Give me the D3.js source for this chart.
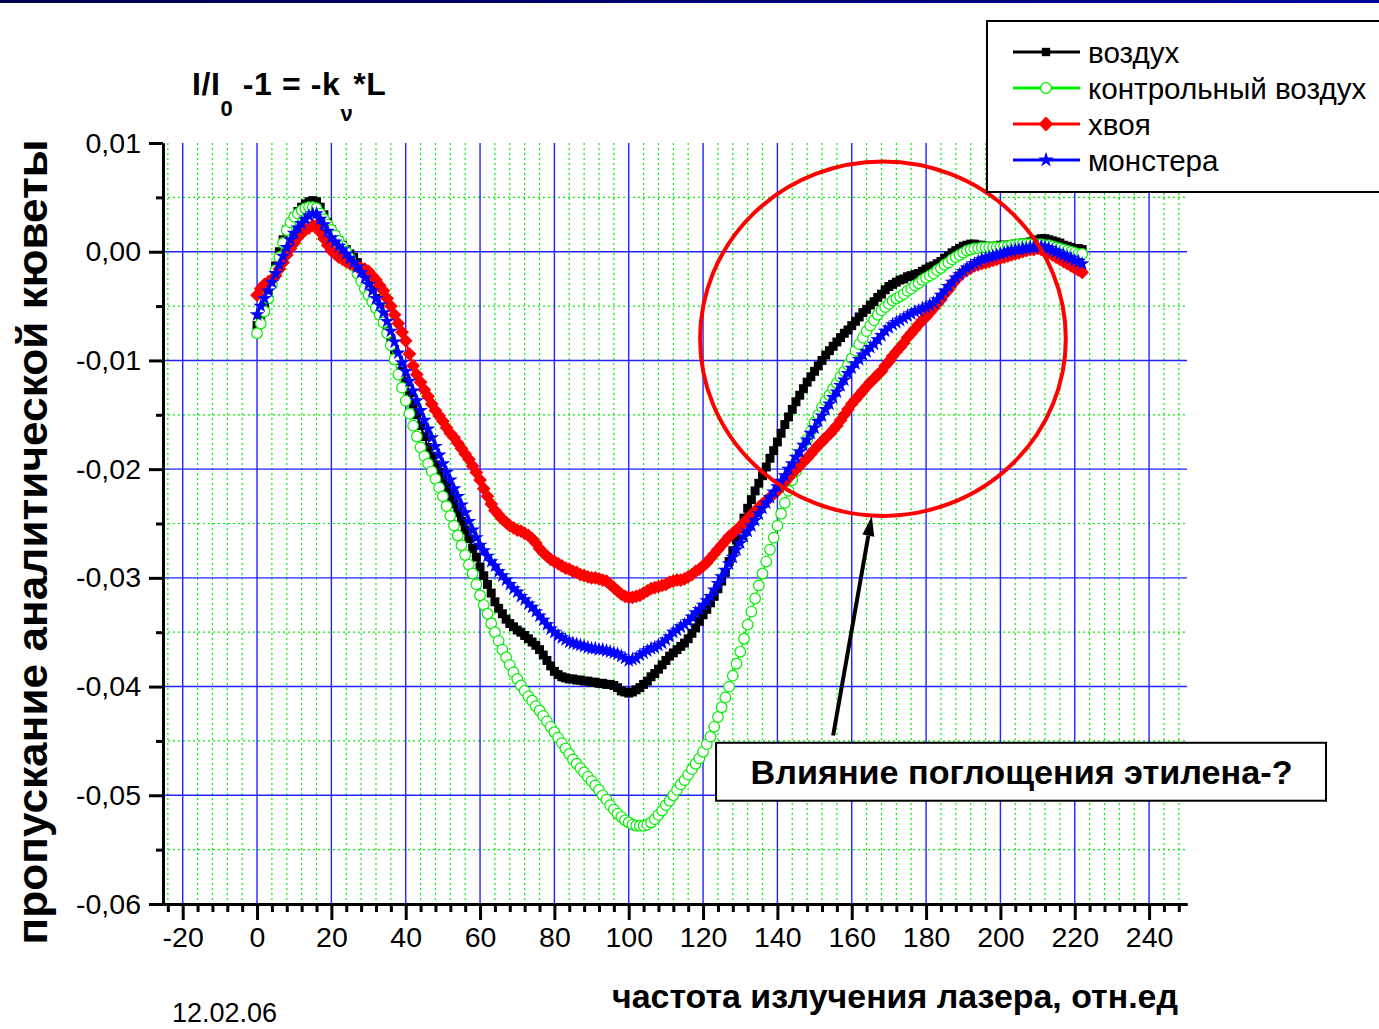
<!DOCTYPE html>
<html>
<head>
<meta charset="utf-8">
<script src="https://cdn.jsdelivr.net/npm/d3@7"></script>
<style>
  body { margin: 0; background: #fff; }
  svg { display: block; }
  text { font-family: "Liberation Sans", Arial, sans-serif; }
</style>
</head>
<body>
<svg id="chart" width="1379" height="1029"></svg>
<script>
// Laser frequency samples (relative units), one reading per unit
const freq = d3.range(0, 223, 1);

// Cell transmission I/I0 - 1 for each gas sample
const vozdukh = [
  -0.0068, -0.0060, -0.0050, -0.0038, -0.0026, -0.0013, 0.0000, 0.0011, 0.0020, 0.0027,
  0.0032, 0.0037, 0.0041, 0.0044, 0.0046, 0.0047, 0.0046, 0.0041, 0.0034, 0.0027,
  0.0020, 0.0015, 0.0010, 0.0006, 0.0002, -0.0002, -0.0005, -0.0010, -0.0016, -0.0022,
  -0.0028, -0.0035, -0.0043, -0.0051, -0.0060, -0.0070, -0.0080, -0.0090, -0.0100, -0.0110,
  -0.0120, -0.0130, -0.0140, -0.0150, -0.0160, -0.0170, -0.0180, -0.0188, -0.0196, -0.0203,
  -0.0210, -0.0217, -0.0225, -0.0232, -0.0240, -0.0248, -0.0256, -0.0264, -0.0273, -0.0281,
  -0.0290, -0.0298, -0.0306, -0.0314, -0.0322, -0.0328, -0.0333, -0.0338, -0.0342, -0.0345,
  -0.0348, -0.0350, -0.0353, -0.0356, -0.0359, -0.0362, -0.0366, -0.0371, -0.0376, -0.0381,
  -0.0386, -0.0389, -0.0391, -0.0392, -0.0393, -0.0393, -0.0394, -0.0394, -0.0395, -0.0395,
  -0.0396, -0.0396, -0.0397, -0.0397, -0.0398, -0.0398, -0.0399, -0.0401, -0.0404, -0.0405,
  -0.0406, -0.0405, -0.0403, -0.0401, -0.0398, -0.0395, -0.0391, -0.0388, -0.0384, -0.0380,
  -0.0376, -0.0372, -0.0369, -0.0366, -0.0363, -0.0360, -0.0356, -0.0351, -0.0346, -0.0340,
  -0.0334, -0.0329, -0.0323, -0.0317, -0.0310, -0.0303, -0.0295, -0.0285, -0.0275, -0.0265,
  -0.0255, -0.0245, -0.0236, -0.0228, -0.0220, -0.0213, -0.0206, -0.0198, -0.0190, -0.0183,
  -0.0175, -0.0167, -0.0159, -0.0152, -0.0145, -0.0138, -0.0132, -0.0126, -0.0120, -0.0115,
  -0.0110, -0.0105, -0.0100, -0.0095, -0.0091, -0.0087, -0.0083, -0.0079, -0.0075, -0.0072,
  -0.0068, -0.0064, -0.0060, -0.0056, -0.0053, -0.0049, -0.0046, -0.0042, -0.0039, -0.0035,
  -0.0032, -0.0030, -0.0028, -0.0026, -0.0025, -0.0023, -0.0022, -0.0021, -0.0020, -0.0018,
  -0.0016, -0.0014, -0.0013, -0.0011, -0.0009, -0.0006, -0.0004, -0.0001, 0.0001, 0.0003,
  0.0005, 0.0006, 0.0007, 0.0007, 0.0006, 0.0006, 0.0005, 0.0005, 0.0005, 0.0005,
  0.0006, 0.0006, 0.0006, 0.0006, 0.0007, 0.0007, 0.0008, 0.0008, 0.0009, 0.0010,
  0.0011, 0.0012, 0.0012, 0.0011, 0.0010, 0.0009, 0.0008, 0.0006, 0.0005, 0.0004,
  0.0003, 0.0003, 0.0002
];

const kontrolnyi = [
  -0.0075, -0.0066, -0.0055, -0.0043, -0.0030, -0.0017, -0.0005, 0.0008, 0.0020, 0.0027,
  0.0032, 0.0035, 0.0038, 0.0040, 0.0041, 0.0041, 0.0040, 0.0035, 0.0030, 0.0025,
  0.0020, 0.0015, 0.0010, 0.0005, 0.0000, -0.0006, -0.0013, -0.0020, -0.0027, -0.0034,
  -0.0040, -0.0046, -0.0052, -0.0058, -0.0065, -0.0075, -0.0086, -0.0099, -0.0113, -0.0125,
  -0.0137, -0.0149, -0.0160, -0.0170, -0.0180, -0.0188, -0.0195, -0.0202, -0.0209, -0.0217,
  -0.0225, -0.0234, -0.0243, -0.0252, -0.0261, -0.0270, -0.0279, -0.0288, -0.0296, -0.0306,
  -0.0316, -0.0325, -0.0333, -0.0342, -0.0350, -0.0358, -0.0366, -0.0373, -0.0380, -0.0387,
  -0.0393, -0.0399, -0.0404, -0.0409, -0.0413, -0.0418, -0.0422, -0.0427, -0.0432, -0.0437,
  -0.0442, -0.0447, -0.0452, -0.0457, -0.0462, -0.0467, -0.0471, -0.0475, -0.0479, -0.0483,
  -0.0487, -0.0491, -0.0495, -0.0500, -0.0504, -0.0509, -0.0513, -0.0517, -0.0520, -0.0523,
  -0.0525, -0.0527, -0.0528, -0.0528, -0.0528, -0.0527, -0.0525, -0.0522, -0.0518, -0.0514,
  -0.0509, -0.0505, -0.0500, -0.0495, -0.0490, -0.0486, -0.0481, -0.0476, -0.0471, -0.0466,
  -0.0460, -0.0453, -0.0446, -0.0437, -0.0428, -0.0419, -0.0410, -0.0400, -0.0390, -0.0379,
  -0.0368, -0.0356, -0.0343, -0.0331, -0.0319, -0.0307, -0.0296, -0.0285, -0.0274, -0.0263,
  -0.0252, -0.0241, -0.0231, -0.0220, -0.0210, -0.0202, -0.0193, -0.0183, -0.0173, -0.0165,
  -0.0157, -0.0150, -0.0143, -0.0137, -0.0132, -0.0126, -0.0121, -0.0115, -0.0110, -0.0104,
  -0.0098, -0.0091, -0.0085, -0.0079, -0.0073, -0.0068, -0.0063, -0.0058, -0.0054, -0.0051,
  -0.0048, -0.0045, -0.0043, -0.0041, -0.0039, -0.0036, -0.0034, -0.0031, -0.0029, -0.0026,
  -0.0024, -0.0022, -0.0020, -0.0017, -0.0015, -0.0012, -0.0010, -0.0007, -0.0005, -0.0003,
  -0.0001, 0.0001, 0.0002, 0.0003, 0.0003, 0.0004, 0.0004, 0.0004, 0.0004, 0.0004,
  0.0004, 0.0005, 0.0005, 0.0006, 0.0006, 0.0007, 0.0007, 0.0007, 0.0007, 0.0007,
  0.0007, 0.0007, 0.0006, 0.0006, 0.0005, 0.0004, 0.0003, 0.0002, 0.0001, 0.0000,
  -0.0001, -0.0002, -0.0002
];

const khvoya = [
  -0.0040, -0.0034, -0.0030, -0.0028, -0.0026, -0.0022, -0.0016, -0.0010, -0.0003, 0.0003,
  0.0008, 0.0013, 0.0017, 0.0020, 0.0022, 0.0024, 0.0024, 0.0018, 0.0012, 0.0006,
  0.0001, -0.0002, -0.0005, -0.0007, -0.0009, -0.0011, -0.0012, -0.0014, -0.0015, -0.0016,
  -0.0018, -0.0022, -0.0026, -0.0031, -0.0036, -0.0043, -0.0050, -0.0058, -0.0066, -0.0074,
  -0.0082, -0.0094, -0.0105, -0.0113, -0.0120, -0.0127, -0.0133, -0.0140, -0.0146, -0.0151,
  -0.0156, -0.0162, -0.0167, -0.0171, -0.0176, -0.0181, -0.0186, -0.0191, -0.0197, -0.0203,
  -0.0210, -0.0218, -0.0225, -0.0232, -0.0238, -0.0242, -0.0246, -0.0249, -0.0252, -0.0254,
  -0.0256, -0.0257, -0.0259, -0.0261, -0.0264, -0.0268, -0.0273, -0.0277, -0.0280, -0.0283,
  -0.0285, -0.0287, -0.0289, -0.0291, -0.0292, -0.0294, -0.0295, -0.0297, -0.0298, -0.0299,
  -0.0300, -0.0300, -0.0301, -0.0302, -0.0303, -0.0306, -0.0309, -0.0312, -0.0315, -0.0317,
  -0.0318, -0.0318, -0.0317, -0.0316, -0.0314, -0.0312, -0.0310, -0.0309, -0.0308, -0.0307,
  -0.0306, -0.0304, -0.0303, -0.0302, -0.0302, -0.0301, -0.0299, -0.0297, -0.0294, -0.0292,
  -0.0289, -0.0286, -0.0282, -0.0278, -0.0274, -0.0270, -0.0266, -0.0262, -0.0259, -0.0256,
  -0.0253, -0.0249, -0.0246, -0.0242, -0.0239, -0.0235, -0.0232, -0.0229, -0.0226, -0.0223,
  -0.0220, -0.0216, -0.0212, -0.0208, -0.0204, -0.0200, -0.0197, -0.0193, -0.0190, -0.0186,
  -0.0182, -0.0178, -0.0175, -0.0171, -0.0168, -0.0164, -0.0160, -0.0155, -0.0150, -0.0145,
  -0.0140, -0.0136, -0.0132, -0.0128, -0.0124, -0.0120, -0.0117, -0.0113, -0.0110, -0.0105,
  -0.0101, -0.0096, -0.0092, -0.0088, -0.0084, -0.0079, -0.0075, -0.0071, -0.0067, -0.0063,
  -0.0060, -0.0056, -0.0052, -0.0048, -0.0044, -0.0039, -0.0035, -0.0030, -0.0026, -0.0022,
  -0.0019, -0.0017, -0.0015, -0.0013, -0.0012, -0.0011, -0.0010, -0.0009, -0.0008, -0.0007,
  -0.0006, -0.0005, -0.0004, -0.0003, -0.0002, -0.0001, 0.0000, 0.0001, 0.0002, 0.0002,
  0.0003, 0.0002, 0.0001, -0.0001, -0.0003, -0.0005, -0.0007, -0.0009, -0.0011, -0.0013,
  -0.0015, -0.0017, -0.0019
];

const monstera = [
  -0.0058, -0.0050, -0.0043, -0.0036, -0.0028, -0.0020, -0.0012, -0.0004, 0.0004, 0.0011,
  0.0017, 0.0022, 0.0026, 0.0030, 0.0033, 0.0035, 0.0035, 0.0030, 0.0025, 0.0019,
  0.0013, 0.0009, 0.0005, 0.0002, -0.0002, -0.0006, -0.0010, -0.0014, -0.0019, -0.0024,
  -0.0030, -0.0036, -0.0043, -0.0049, -0.0056, -0.0064, -0.0073, -0.0083, -0.0093, -0.0102,
  -0.0110, -0.0119, -0.0128, -0.0137, -0.0146, -0.0155, -0.0163, -0.0171, -0.0179, -0.0187,
  -0.0195, -0.0203, -0.0210, -0.0218, -0.0225, -0.0233, -0.0240, -0.0248, -0.0256, -0.0263,
  -0.0270, -0.0275, -0.0280, -0.0285, -0.0289, -0.0294, -0.0298, -0.0302, -0.0306, -0.0310,
  -0.0313, -0.0317, -0.0320, -0.0324, -0.0327, -0.0331, -0.0335, -0.0339, -0.0343, -0.0347,
  -0.0350, -0.0353, -0.0355, -0.0357, -0.0359, -0.0360, -0.0361, -0.0362, -0.0363, -0.0364,
  -0.0365, -0.0365, -0.0366, -0.0366, -0.0367, -0.0368, -0.0369, -0.0370, -0.0372, -0.0374,
  -0.0376, -0.0375, -0.0374, -0.0371, -0.0369, -0.0367, -0.0365, -0.0364, -0.0362, -0.0360,
  -0.0357, -0.0354, -0.0350, -0.0348, -0.0345, -0.0343, -0.0340, -0.0336, -0.0332, -0.0329,
  -0.0325, -0.0321, -0.0317, -0.0311, -0.0305, -0.0299, -0.0293, -0.0287, -0.0281, -0.0274,
  -0.0268, -0.0262, -0.0257, -0.0252, -0.0247, -0.0241, -0.0236, -0.0231, -0.0226, -0.0221,
  -0.0216, -0.0211, -0.0206, -0.0200, -0.0195, -0.0189, -0.0184, -0.0178, -0.0173, -0.0167,
  -0.0162, -0.0156, -0.0151, -0.0145, -0.0140, -0.0134, -0.0129, -0.0123, -0.0118, -0.0112,
  -0.0107, -0.0103, -0.0099, -0.0095, -0.0092, -0.0088, -0.0085, -0.0081, -0.0077, -0.0073,
  -0.0070, -0.0067, -0.0065, -0.0063, -0.0061, -0.0059, -0.0057, -0.0055, -0.0054, -0.0052,
  -0.0051, -0.0049, -0.0047, -0.0044, -0.0040, -0.0036, -0.0032, -0.0028, -0.0024, -0.0021,
  -0.0018, -0.0015, -0.0013, -0.0011, -0.0009, -0.0007, -0.0006, -0.0005, -0.0004, -0.0003,
  -0.0002, -0.0001, 0.0000, 0.0001, 0.0002, 0.0002, 0.0003, 0.0003, 0.0004, 0.0004,
  0.0005, 0.0005, 0.0004, 0.0003, 0.0001, 0.0000, -0.0002, -0.0003, -0.0005, -0.0006,
  -0.0008, -0.0009, -0.0011
];

const seriesNames = ["воздух", "контрольный воздух", "хвоя", "монстера"];

// Axis ticks and their labels
const xMajorTicks = [-20, 0, 20, 40, 60, 80, 100, 120, 140, 160, 180, 200, 220, 240];
const xTickLabels = ["-20", "0", "20", "40", "60", "80", "100", "120", "140", "160", "180", "200", "220", "240"];
const yMajorTicks = [0.01, 0, -0.01, -0.02, -0.03, -0.04, -0.05, -0.06];
const yTickLabels = ["0,01", "0,00", "-0,01", "-0,02", "-0,03", "-0,04", "-0,05", "-0,06"];
const xMinorTicks = d3.range(-24, 250, 4).filter(v => v % 20 !== 0);
const yMinorTicks = [0.005, -0.005, -0.015, -0.025, -0.035, -0.045, -0.055];

const svg = d3.select("#chart");
const plot = { left: 163, right: 1187, top: 143, bottom: 904 };

const x = d3.scaleLinear().domain([-25.3, 250.2]).range([plot.left, plot.right]);
const y = d3.scaleLinear().domain([-0.06, 0.01]).range([plot.bottom, plot.top]);

// Navy rule along the top edge
const defs = svg.append("defs");
const grad = defs.append("linearGradient").attr("id", "topRule");
grad.append("stop").attr("offset", "0%").attr("stop-color", "#00004e");
grad.append("stop").attr("offset", "100%").attr("stop-color", "#00009a");
svg.append("rect").attr("x", 0).attr("y", 0).attr("width", 1379).attr("height", 3)
  .attr("fill", "url(#topRule)");

// Grid: green dotted minor lines, blue solid major lines
const grid = svg.append("g");
grid.selectAll(".vmin").data(xMinorTicks).join("line")
  .attr("x1", d => x(d)).attr("x2", d => x(d))
  .attr("y1", plot.top).attr("y2", plot.bottom)
  .attr("stroke", "#00ee00").attr("stroke-width", 1.2).attr("stroke-dasharray", "2,3");
grid.selectAll(".hmin").data(yMinorTicks).join("line")
  .attr("x1", plot.left).attr("x2", plot.right)
  .attr("y1", d => y(d)).attr("y2", d => y(d))
  .attr("stroke", "#00ee00").attr("stroke-width", 1.2).attr("stroke-dasharray", "2,3");
grid.selectAll(".vmaj").data(xMajorTicks).join("line")
  .attr("x1", d => x(d)).attr("x2", d => x(d))
  .attr("y1", plot.top).attr("y2", plot.bottom)
  .attr("stroke", "#2222ff").attr("stroke-width", 1.4);
grid.selectAll(".hmaj").data(yMajorTicks.filter(v => v < 0.005 && v > -0.055)).join("line")
  .attr("x1", plot.left).attr("x2", plot.right)
  .attr("y1", d => y(d)).attr("y2", d => y(d))
  .attr("stroke", "#2222ff").attr("stroke-width", 1.4);

// Axes
function styleAxis(g) {
  g.select(".domain").attr("stroke", "#000").attr("stroke-width", 3);
  g.selectAll(".tick line").attr("stroke", "#000").attr("stroke-width", 3);
  g.selectAll(".tick text").attr("font-size", 28.5).attr("fill", "#000")
    .style("font-family", "'Liberation Sans', Arial, sans-serif");
}
svg.append("g").attr("transform", `translate(${plot.left},0)`)
  .call(d3.axisLeft(y).tickValues(yMinorTicks).tickSize(7).tickSizeOuter(0).tickFormat(""))
  .call(styleAxis);
svg.append("g").attr("transform", `translate(${plot.left},0)`)
  .call(d3.axisLeft(y).tickValues(yMajorTicks).tickSize(14).tickSizeOuter(0).tickPadding(8)
    .tickFormat((d, i) => yTickLabels[i]))
  .call(styleAxis);
svg.append("g").attr("transform", `translate(0,${plot.bottom})`)
  .call(d3.axisBottom(x).tickValues(xMinorTicks).tickSize(8).tickSizeOuter(0).tickFormat(""))
  .call(styleAxis);
svg.append("g").attr("transform", `translate(0,${plot.bottom})`)
  .call(d3.axisBottom(x).tickValues(xMajorTicks).tickSize(16).tickSizeOuter(0).tickPadding(7)
    .tickFormat((d, i) => xTickLabels[i]))
  .call(styleAxis);

// Series definitions: line + marker style
const diamond = { draw(ctx, size) { const r = Math.sqrt(size) / 2 * Math.SQRT2;
  ctx.moveTo(0, -r); ctx.lineTo(r, 0); ctx.lineTo(0, r); ctx.lineTo(-r, 0); ctx.closePath(); } };
const series = [
  { name: seriesNames[0], values: vozdukh, color: "#000000", symbol: d3.symbolSquare, size: 80,
    fill: "#000000", stroke: "none", lw: 2.2, legendSize: 70 },
  { name: seriesNames[1], values: kontrolnyi, color: "#00ee00", symbol: d3.symbolCircle, size: 88,
    fill: "#ffffff", stroke: "#00ee00", lw: 1.3, legendSize: 90 },
  { name: seriesNames[2], values: khvoya, color: "#ff0000", symbol: diamond, size: 95,
    fill: "#ff0000", stroke: "none", lw: 2.2, legendSize: 110 },
  { name: seriesNames[3], values: monstera, color: "#0000ff", symbol: d3.symbolStar, size: 68,
    fill: "#0000ff", stroke: "none", lw: 2.2, legendSize: 75 }
];

const line = d3.line().x((d, i) => x(freq[i])).y(d => y(d));
const dataLayer = svg.append("g");
series.forEach(s => {
  const g = dataLayer.append("g");
  g.append("path").attr("d", line(s.values)).attr("fill", "none")
    .attr("stroke", s.color).attr("stroke-width", s.lw);
  g.selectAll("path.m").data(s.values).join("path").attr("class", "m")
    .attr("d", d3.symbol(s.symbol, s.size))
    .attr("transform", (d, i) => `translate(${x(freq[i])},${y(d)})`)
    .attr("fill", s.fill).attr("stroke", s.stroke).attr("stroke-width", 1.2);
});

// Annotation: red ellipse around the upper wing, arrow, and callout box
const ell = { cx: 168.4, cy: -0.0080, rx: 49.2, ry: 0.0163 };
svg.append("ellipse")
  .attr("cx", x(ell.cx)).attr("cy", y(ell.cy))
  .attr("rx", x(ell.cx + ell.rx) - x(ell.cx)).attr("ry", y(ell.cy - ell.ry) - y(ell.cy))
  .attr("fill", "none").attr("stroke", "#ff0000").attr("stroke-width", 4);

const arrowFrom = [155.0, -0.0445], arrowTo = [165.4, -0.0243];
const ax1 = x(arrowFrom[0]), ay1 = y(arrowFrom[1]), ax2 = x(arrowTo[0]), ay2 = y(arrowTo[1]);
const ang = Math.atan2(ay2 - ay1, ax2 - ax1);
const headLen = 20, headW = 6;
const bx = ax2 - headLen * Math.cos(ang), by = ay2 - headLen * Math.sin(ang);
svg.append("line").attr("x1", ax1).attr("y1", ay1).attr("x2", bx).attr("y2", by)
  .attr("stroke", "#000").attr("stroke-width", 4);
svg.append("polygon").attr("fill", "#000").attr("points", [
  [ax2, ay2],
  [bx + headW * Math.sin(ang), by - headW * Math.cos(ang)],
  [bx - headW * Math.sin(ang), by + headW * Math.cos(ang)]
].map(p => p.join(",")).join(" "));

const boxL = x(123.5), boxR = x(287.6), boxT = y(-0.04517), boxB = y(-0.0505);
svg.append("rect").attr("x", boxL).attr("y", boxT).attr("width", boxR - boxL).attr("height", boxB - boxT)
  .attr("fill", "#fff").attr("stroke", "#000").attr("stroke-width", 2);
svg.append("text").attr("x", (boxL + boxR) / 2 + 0.5).attr("y", boxT + 41)
  .attr("text-anchor", "middle").attr("font-size", 33).attr("font-weight", "bold")
  .attr("textLength", 542).attr("lengthAdjust", "spacingAndGlyphs")
  .text("Влияние поглощения этилена-?");

// Legend
const legend = svg.append("g");
legend.append("rect").attr("x", 987).attr("y", 21).attr("width", 420).attr("height", 171)
  .attr("fill", "#fff").attr("stroke", "#000").attr("stroke-width", 2);
series.forEach((s, i) => {
  const cy = 52 + i * 36;
  legend.append("line").attr("x1", 1013).attr("x2", 1080).attr("y1", cy).attr("y2", cy)
    .attr("stroke", s.color).attr("stroke-width", 3);
  legend.append("path").attr("d", d3.symbol(s.symbol, s.legendSize))
    .attr("transform", `translate(1046,${cy})`)
    .attr("fill", s.fill).attr("stroke", s.stroke).attr("stroke-width", 1.3);
  legend.append("text").attr("x", 1088).attr("y", cy).attr("dy", "0.36em")
    .attr("font-size", 29.6).text(s.name);
});

// Formula title
const title = svg.append("text").attr("x", 192).attr("y", 95)
  .attr("font-size", 32).attr("font-weight", "bold").attr("letter-spacing", 0.6);
title.append("tspan").text("I/I");
title.append("tspan").attr("font-size", 22).attr("dy", 21).text("0");
title.append("tspan").attr("dy", -21).text(" -1 = -k");
title.append("tspan").attr("font-size", 22).attr("dy", 26).text("ν");
title.append("tspan").attr("dy", -26).text("*L");

// Axis titles
svg.append("text").attr("transform", "translate(47,542) rotate(-90)")
  .attr("text-anchor", "middle").attr("font-size", 42).attr("font-weight", "bold")
  .attr("textLength", 805).attr("lengthAdjust", "spacingAndGlyphs")
  .text("пропускание аналитической кюветы");
svg.append("text").attr("x", 895).attr("y", 1008)
  .attr("text-anchor", "middle").attr("font-size", 33).attr("font-weight", "bold")
  .attr("textLength", 566).attr("lengthAdjust", "spacingAndGlyphs")
  .text("частота излучения лазера, отн.ед");

// Date stamp
svg.append("text").attr("x", 172).attr("y", 1022).attr("font-size", 27).text("12.02.06");
</script>
</body>
</html>
